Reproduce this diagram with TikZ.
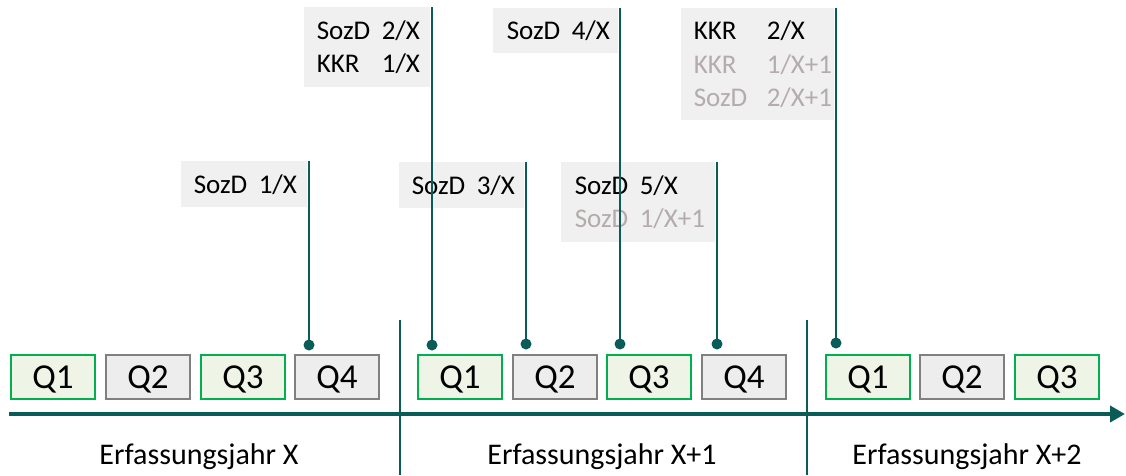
\documentclass[tikz,border=0pt]{standalone}
\usepackage{fontspec}
\setmainfont{Carlito}
\usetikzlibrary{arrows.meta}

\definecolor{teal}{RGB}{10,92,88}
\definecolor{qgreen}{RGB}{0,176,80}
\definecolor{qgreenfill}{RGB}{238,245,230}
\definecolor{qgrey}{RGB}{128,128,128}
\definecolor{qgreyfill}{RGB}{237,237,237}
\definecolor{notefill}{RGB}{240,240,240}
\definecolor{later}{RGB}{180,172,172}

\newcommand{\lbl}[2][65pt]{\makebox[#1][l]{#2}}

\tikzset{
  quarter/.style={draw, line width=2pt, minimum width=84pt, minimum height=44pt,
    inner sep=0pt, text height=22pt, text depth=0pt,
    font=\fontsize{35}{40}\selectfont},
  qa/.style={quarter, draw=qgreen, fill=qgreenfill},
  qb/.style={quarter, draw=qgrey, fill=qgreyfill},
  note/.style={fill=notefill, inner sep=0pt, anchor=north east, align=left,
    font=\fontsize{27}{33.5}\selectfont},
  dot/.style={circle, fill=teal, inner sep=0pt, minimum size=11pt},
  lead/.style={draw=teal, line width=2.6pt},
  sep/.style={draw=teal, line width=2pt},
  axis/.style={draw=teal, line width=4pt, -{Triangle[length=15pt,width=16pt]}},
  year/.style={anchor=base, font=\fontsize{30}{36}\selectfont}
}

\begin{document}
\begin{tikzpicture}[x=1pt,y=-1pt]
\useasboundingbox (0,0) rectangle (1126,475);

% time axis and year separators
\coordinate (axs) at (9,414);
\coordinate (axe) at (1125,414);
\draw[axis] (axs) -- (axe);
\coordinate (s1t) at (400,320);
\coordinate (s1b) at (400,475);
\coordinate (s2t) at (807,320);
\coordinate (s2b) at (807,475);
\draw[sep] (s1t) -- (s1b);
\draw[sep] (s2t) -- (s2b);

% quarters
\node[qa] (a1) at (53,377) {Q1};
\node[qb] (a2) at (148,377) {Q2};
\node[qa] (a3) at (243,377) {Q3};
\node[qb] (a4) at (337,377) {Q4};
\node[qa] (b1) at (460,377) {Q1};
\node[qb] (b2) at (555,377) {Q2};
\node[qa] (b3) at (649,377) {Q3};
\node[qb] (b4) at (744,377) {Q4};
\node[qa] (c1) at (868,377) {Q1};
\node[qb] (c2) at (962,377) {Q2};
\node[qa] (c3) at (1057,377) {Q3};

% year labels
\node[year] (y1) at (199,464) {Erfassungsjahr X};
\node[year] (y2) at (602,464) {Erfassungsjahr X+1};
\node[year] (y3) at (967,464) {Erfassungsjahr X+2};

% delivery dates
\node[dot] (d1) at (309,345) {};
\node[dot] (d2) at (432,345) {};
\node[dot] (d3) at (526,344) {};
\node[dot] (d4) at (620,344) {};
\node[dot] (d5) at (717,344) {};
\node[dot] (d6) at (836,343) {};

% notes
\node[note, text width=126pt, minimum height=46pt] (n1) at (307,161)
  {\hspace*{13pt}\lbl{SozD}1/X};
\node[note, text width=126pt, minimum height=80pt] (n2) at (430,7)
  {\hspace*{13pt}\lbl{SozD}2/X\\ \hspace*{13pt}\lbl{KKR}1/X};
\node[note, text width=125pt, minimum height=46pt] (n3) at (524,162)
  {\hspace*{13pt}\lbl{SozD}3/X};
\node[note, text width=125pt, minimum height=45pt] (n4) at (618,8)
  {\hspace*{14pt}\lbl{SozD}4/X};
\node[note, text width=154pt, minimum height=80pt] (n5) at (715,162)
  {\hspace*{14pt}\lbl{SozD}5/X\\ \hspace*{14pt}\textcolor{later}{\lbl{SozD}1/X+1}};
\node[note, text width=153pt, minimum height=112pt] (n6) at (834,8)
  {\hspace*{13pt}\lbl[73pt]{KKR}2/X\\
   \hspace*{13pt}\textcolor{later}{\lbl[73pt]{KKR}1/X+1}\\
   \hspace*{13pt}\textcolor{later}{\lbl[73pt]{SozD}2/X+1}};

% leads from notes to delivery dates
\foreach \i in {1,...,6}
  \draw[lead] (d\i.center) -- (d\i.center |- n\i.north);
\end{tikzpicture}
\end{document}
